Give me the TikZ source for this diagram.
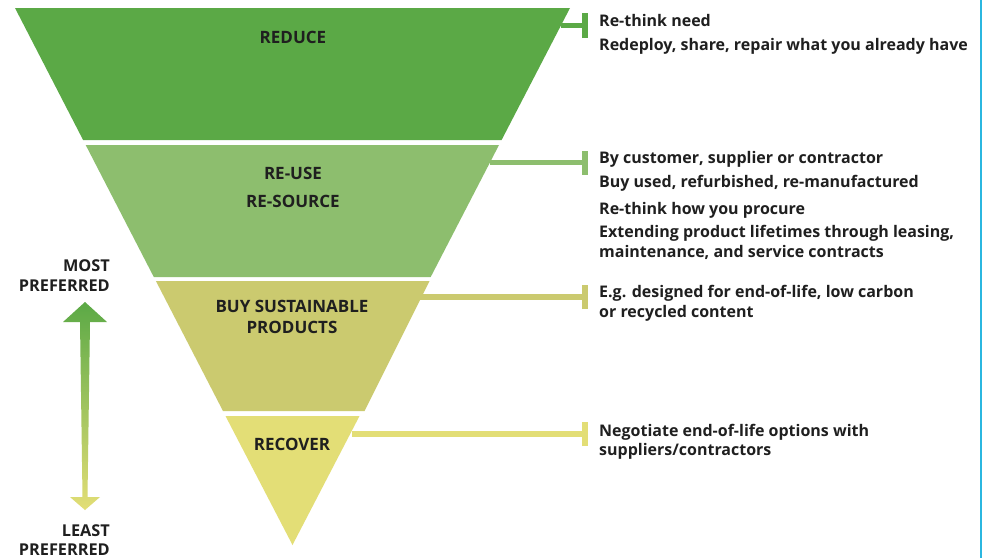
\documentclass[tikz,border=0pt]{standalone}
\usepackage{fontspec}
\setmainfont{Open Sans}
\begin{document}
\begin{tikzpicture}[x=1pt,y=-1pt,
  bandlabel/.style={font=\fontsize{17}{20}\selectfont\bfseries,text=black!88,inner sep=0pt,anchor=base},
  desc/.style={font=\fontsize{16}{19}\selectfont\bfseries,text=black!88,inner sep=0pt,anchor=base west},
  sidelabel/.style={font=\fontsize{16.3}{19}\selectfont\bfseries,text=black!88,inner sep=0pt,anchor=base east},
  conn/.style={line width=5.5pt},
  barline/.style={line width=6pt}]
\definecolor{cReduce}{HTML}{5BA946}
\definecolor{cReuse}{HTML}{8DBE6E}
\definecolor{cBuy}{HTML}{CBCA6F}
\definecolor{cRecover}{HTML}{E3DE76}
\definecolor{cBlue}{HTML}{2BB7E0}
\useasboundingbox (0,0) rectangle (986,558);
\fill[white] (0,0) rectangle (986,558);
% bands
\fill[cReduce] (15,8) -- (570,8) -- (501.6,140) -- (83.1,140) -- cycle;
\fill[cReuse] (85.7,145) -- (499,145) -- (430.7,277) -- (153.8,277) -- cycle;
\fill[cBuy] (155.9,281) -- (429.5,281) -- (364.5,411) -- (223,411) -- cycle;
\fill[cRecover] (225.5,416) -- (359.5,416) -- (292.5,545) -- cycle;
% band labels
\node[bandlabel] (reduce) at (293,43.2) {REDUCE};
\node[bandlabel] (reuse) at (293,179.6) {RE-USE};
\node[bandlabel] (resource) at (293,207) {RE-SOURCE};
\node[bandlabel] (buy) at (292,312.5) {BUY SUSTAINABLE};
\node[bandlabel] (products) at (292,333.5) {PRODUCTS};
\node[bandlabel] (recover) at (292,450.5) {RECOVER};
% connector coordinates
\coordinate (r1s) at (561,25.5);  \coordinate (r1e) at (584.5,25.5);
\coordinate (r2s) at (490,162.5); \coordinate (r2e) at (584.5,162.5);
\coordinate (r3s) at (420,297);   \coordinate (r3e) at (585,297);
\coordinate (r4s) at (352,434);   \coordinate (r4e) at (585,434);
\draw[conn,cReduce] (r1s) -- (r1e);
\draw[barline,cReduce] ([yshift=-12.5pt]r1e) -- ([yshift=12.5pt]r1e);
\draw[conn,cReuse] (r2s) -- (r2e);
\draw[barline,cReuse] ([yshift=-12pt]r2e) -- ([yshift=12pt]r2e);
\draw[conn,cBuy] (r3s) -- (r3e);
\draw[barline,cBuy] ([yshift=-12pt]r3e) -- ([yshift=12pt]r3e);
\draw[conn,cRecover] (r4s) -- (r4e);
\draw[barline,cRecover] ([yshift=-12pt]r4e) -- ([yshift=12pt]r4e);
% descriptions
\node[desc] (d1a) at (599,26.5) {Re-think need};
\node[desc] (d1b) at (599,50) {Redeploy, share, repair what you already have};
\node[desc] (d2a) at (599,163) {By customer, supplier or contractor};
\node[desc] (d2b) at (599,187) {Buy used, refurbished, re-manufactured};
\node[desc] (d2c) at (599,214) {Re-think how you procure};
\node[desc] (d2d) at (599,237.5) {Extending product lifetimes through leasing,};
\node[desc] (d2e) at (599,257.5) {maintenance, and service contracts};
\node[desc] (d3a) at (599,297.5) {E.g. designed for end-of-life, low carbon};
\node[desc] (d3b) at (599,317) {or recycled content};
\node[desc] (d4a) at (599,436.5) {Negotiate end-of-life options with};
\node[desc] (d4b) at (599,455.5) {suppliers/contractors};
% side labels
\node[sidelabel] (most) at (110,271) {MOST};
\node[sidelabel] (mostp) at (110,291) {PREFERRED};
\node[sidelabel] (least) at (110,536) {LEAST};
\node[sidelabel] (leastp) at (110,555) {PREFERRED};
% preference arrow
\shade[top color=cReduce,bottom color=cRecover]
  (85,302) -- (107,322) -- (90,322) -- (87.5,497) -- (100,497) -- (85,510)
  -- (70,497) -- (82.5,497) -- (80,322) -- (63,322) -- cycle;
% right border
\draw[cBlue,line width=2.5pt] (981,0) -- (981,558);
\end{tikzpicture}
\end{document}
